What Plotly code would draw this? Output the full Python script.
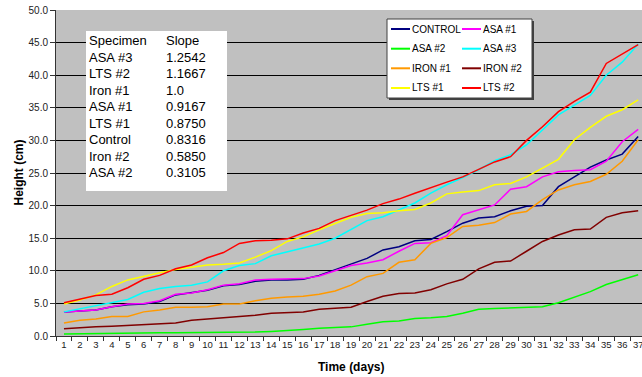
import plotly.graph_objects as go

# ---------------- data ----------------
days = list(range(1, 38))
series_names = ["CONTROL", "ASA #1", "ASA #2", "ASA #3", "IRON #1", "IRON #2", "LTS #1", "LTS #2"]

control = [3.7, 3.8, 4.0, 4.5, 4.8, 4.9, 5.3, 6.3, 6.6, 7.0, 7.7, 7.9, 8.4, 8.6, 8.6, 8.7, 9.3, 10.2, 11.0,
           11.9, 13.2, 13.7, 14.6, 14.8, 16.0, 17.3, 18.1, 18.3, 19.2, 19.9, 20.0, 22.9, 24.4, 25.9, 27.0, 27.9, 30.6]
asa1 = [3.7, 3.8, 4.0, 4.5, 4.9, 5.0, 5.4, 6.4, 6.6, 7.1, 7.8, 8.0, 8.6, 8.7, 8.8, 8.8, 9.2, 10.0, 10.8,
        11.2, 11.7, 13.0, 14.2, 14.3, 15.4, 18.6, 19.3, 20.1, 22.5, 22.9, 24.4, 25.2, 25.4, 25.5, 26.8, 29.8, 31.7]
asa2 = [0.3, 0.35, 0.4, 0.4, 0.45, 0.45, 0.5, 0.5, 0.5, 0.55, 0.55, 0.55, 0.6, 0.7, 0.8, 1.0, 1.2, 1.3, 1.4,
        1.8, 2.2, 2.3, 2.7, 2.8, 3.0, 3.5, 4.1, 4.2, 4.3, 4.3, 4.5, 5.1, 5.9, 6.8, 7.9, 8.7, 9.4]
asa3 = [3.7, 4.2, 4.7, 5.2, 5.6, 6.7, 7.3, 7.6, 7.8, 8.3, 10.0, 10.8, 11.1, 12.3, 12.9, 13.5, 14.1, 15.0, 16.3,
        17.7, 18.3, 19.4, 20.4, 21.9, 23.2, 24.3, 25.5, 26.9, 27.8, 29.3, 31.6, 33.9, 35.4, 36.9, 40.0, 42.0, 44.8]
iron1 = [2.0, 2.4, 2.6, 3.0, 3.0, 3.7, 4.0, 4.4, 4.4, 4.5, 4.9, 4.9, 5.4, 5.8, 6.0, 6.1, 6.4, 6.9, 7.8,
         9.1, 9.6, 11.3, 11.7, 14.2, 15.1, 16.8, 17.0, 17.4, 18.7, 19.1, 20.9, 22.4, 23.2, 23.7, 24.8, 26.8, 30.1]
iron2 = [1.1, 1.3, 1.4, 1.5, 1.6, 1.7, 1.8, 2.0, 2.4, 2.6, 2.7, 3.0, 3.2, 3.5, 3.6, 3.7, 4.1, 4.2, 4.4,
         5.3, 6.1, 6.5, 6.6, 7.1, 8.0, 8.7, 10.3, 11.3, 11.5, 13.0, 14.5, 15.5, 16.3, 16.4, 18.2, 18.9, 19.2]
lts1 = [4.9, 5.5, 6.3, 7.6, 8.6, 9.2, 9.7, 10.2, 10.6, 10.9, 11.0, 11.2, 12.1, 13.1, 14.5, 15.2, 16.3, 17.3, 18.2,
        18.8, 18.9, 19.2, 19.4, 20.4, 21.8, 22.1, 22.3, 23.2, 23.4, 24.4, 25.7, 27.1, 30.1, 32.0, 33.7, 34.7, 36.2]
lts2 = [5.1, 5.6, 6.2, 6.4, 7.4, 8.7, 9.3, 10.3, 10.9, 12.0, 12.8, 14.2, 14.6, 14.7, 14.9, 15.8, 16.5, 17.7, 18.5,
        19.3, 20.3, 21.0, 21.9, 22.8, 23.6, 24.4, 25.6, 26.7, 27.5, 30.0, 32.1, 34.4, 36.0, 37.4, 41.8, 43.3, 44.7]

series_values = [control, asa1, asa2, asa3, iron1, iron2, lts1, lts2]
series_colors = ["#000080", "#FF00FF", "#00FF00", "#00FFFF", "#FF9900", "#800000", "#FFFF00", "#FF0000"]

table_specimens = ["Specimen", "ASA #3", "LTS #2", "Iron #1", "ASA #1", "LTS #1", "Control", "Iron #2", "ASA #2"]
table_slopes = ["Slope", "1.2542", "1.1667", "1.0", "0.9167", "0.8750", "0.8316", "0.5850", "0.3105"]

y_ticks = [0, 5, 10, 15, 20, 25, 30, 35, 40, 45, 50]

# ---------------- layout helpers ----------------
W, H = 642, 377
ML, MT, MB, MR = 56, 10, 41, 0
PW, PH = W - ML - MR, H - MT - MB


def px(x):
    return (x - ML) / PW


def py(y):
    return (H - MB - y) / PH


FONT = "Liberation Sans, Arial, Helvetica, sans-serif"

fig = go.Figure()
cats = [str(d) for d in days]
for name, vals, col in zip(series_names, series_values, series_colors):
    fig.add_trace(go.Scatter(x=cats, y=vals, mode="lines", name=name,
                             line=dict(color=col, width=1.5), showlegend=False,
                             hoverinfo="x+y+name"))

shapes = []
annotations = []

# slope table box
shapes.append(dict(type="rect", xref="paper", yref="paper", x0=px(86), x1=px(227), y0=py(31), y1=py(191),
                   fillcolor="white", line=dict(width=0), layer="above"))
row_y0, row_dy = 40.7, 16.5
for i, (s, v) in enumerate(zip(table_specimens, table_slopes)):
    yy = py(row_y0 + i * row_dy)
    annotations.append(dict(xref="paper", yref="paper", x=px(87), y=yy, text=s, showarrow=False,
                            xanchor="left", yanchor="middle", font=dict(family=FONT, size=13, color="#000")))
    annotations.append(dict(xref="paper", yref="paper", x=px(164), y=yy, text=v, showarrow=False,
                            xanchor="left", yanchor="middle", font=dict(family=FONT, size=13, color="#000")))

# legend box (shadow + box)
shapes.append(dict(type="rect", xref="paper", yref="paper", x0=px(389), x1=px(534), y0=py(21), y1=py(100),
                   fillcolor="#404040", line=dict(width=0), layer="above"))
shapes.append(dict(type="rect", xref="paper", yref="paper", x0=px(387), x1=px(532), y0=py(19), y1=py(98),
                   fillcolor="white", line=dict(color="#404040", width=1), layer="above"))
col_x = [391, 462]
row_y = [29, 48.7, 68.3, 88]
for i, (name, col) in enumerate(zip(series_names, series_colors)):
    r, c = i // 2, i % 2
    x0 = col_x[c]
    yy = py(row_y[r])
    shapes.append(dict(type="line", xref="paper", yref="paper", x0=px(x0), x1=px(x0 + 19), y0=yy, y1=yy,
                       line=dict(color=col, width=2), layer="above"))
    annotations.append(dict(xref="paper", yref="paper", x=px(x0 + 19), y=yy, text=name, showarrow=False,
                            xanchor="left", yanchor="middle", font=dict(family=FONT, size=10, color="#000")))

# axis titles
annotations.append(dict(xref="paper", yref="paper", x=px(18.5), y=py(173), text="<b>Height (cm)</b>",
                        textangle=-90, showarrow=False, xanchor="center", yanchor="middle",
                        font=dict(family=FONT, size=12, color="#000")))
annotations.append(dict(xref="paper", yref="paper", x=px(351), y=py(367), text="<b>Time (days)</b>",
                        showarrow=False, xanchor="center", yanchor="middle",
                        font=dict(family=FONT, size=12, color="#000")))

fig.update_layout(
    width=W, height=H,
    margin=dict(l=ML, r=MR, t=MT, b=MB, pad=0, autoexpand=False),
    paper_bgcolor="white",
    plot_bgcolor="#C0C0C0",
    font=dict(family=FONT, size=10, color="#222"),
    showlegend=False,
    hovermode=False,
    shapes=shapes,
    annotations=annotations,
    xaxis=dict(type="category", range=[-0.5, 36.24], tickson="boundaries", ticks="outside", ticklen=4,
               tickcolor="#333", showline=True, linecolor="#333", linewidth=1, showgrid=False,
               tickangle=0, automargin=False,
               tickfont=dict(family=FONT, size=9.5, color="#222"), zeroline=False),
    yaxis=dict(range=[0, 50], tickvals=y_ticks, ticktext=[f"{v:.1f}" for v in y_ticks], ticks="outside",
               ticklen=5, tickcolor="#333", showline=True, linecolor="#333", linewidth=1,
               showgrid=True, gridcolor="#000", gridwidth=1, zeroline=False, automargin=False,
               tickfont=dict(family=FONT, size=10, color="#222")),
)

fig.write_html(
    "out.html",
    config={"displayModeBar": False, "staticPlot": True},
    post_script="document.body.style.margin='0';document.body.style.padding='0';"
                "document.documentElement.style.overflow='hidden';",
)
